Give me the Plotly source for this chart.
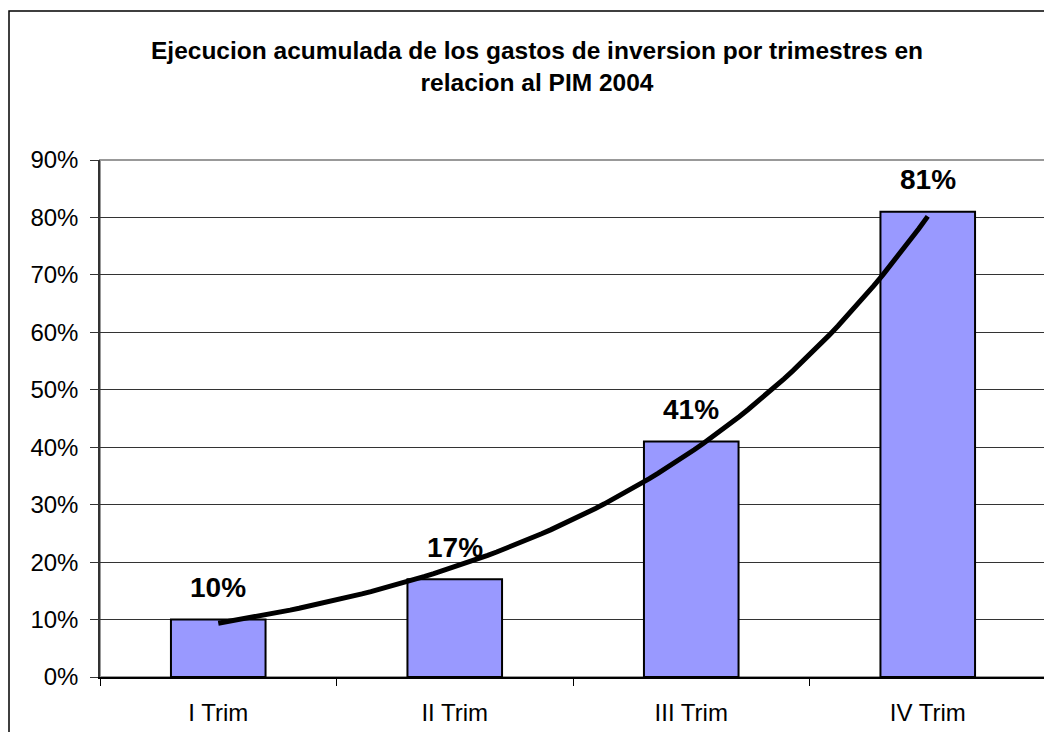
import numpy as np
import plotly.graph_objects as go

# ---- data ----
categories = ["I Trim", "II Trim", "III Trim", "IV Trim"]
values = [0.10, 0.17, 0.41, 0.81]
value_labels = ["10%", "17%", "41%", "81%"]
y_ticks = [0, 0.1, 0.2, 0.3, 0.4, 0.5, 0.6, 0.7, 0.8, 0.9]
title_text = "Ejecucion acumulada de los gastos de inversion por trimestres en<br>relacion al PIM 2004"

# Exponential trendline (as in the spreadsheet), fitted to the bar values
xi = np.arange(1, len(values) + 1)
slope, intercept = np.polyfit(xi, np.log(values), 1)
trend_x = np.linspace(1, len(values), 80)
trend_y = np.exp(intercept + slope * trend_x)

FONT = "Arial, 'Liberation Sans', sans-serif"

W, H = 1044, 724
L, R, T, B = 92, 6, 152, 55
PW, PH = W - L - R, H - T - B

fig = go.Figure()
fig.add_trace(go.Bar(
    x=categories, y=values,
    marker=dict(color="#9999FF", line=dict(color="black", width=2)),
    hoverinfo="x+y",
))
fig.add_trace(go.Scatter(
    x=trend_x, y=trend_y, mode="lines", xaxis="x2",
    line=dict(color="black", width=5, shape="linear"),
    hoverinfo="skip",
))

for c, v, t in zip(categories, values, value_labels):
    fig.add_annotation(x=c, y=v, text="<b>%s</b>" % t, showarrow=False,
                       yshift=32, font=dict(family=FONT, size=28, color="black"))

# outer chart border
fig.add_shape(type="rect", xref="paper", yref="paper",
              x0=(1 - L) / PW, x1=1.05, y0=-0.3, y1=(H - B - 3) / PH,
              line=dict(color="black", width=1.5), layer="below")
# plot area border (top/right gray)
fig.add_shape(type="rect", xref="paper", yref="paper", x0=0, x1=1, y0=0, y1=1,
              line=dict(color="#999999", width=2), layer="below")

fig.update_layout(
    width=W, height=H,
    margin=dict(l=L, r=R, t=T, b=B),
    paper_bgcolor="white", plot_bgcolor="white",
    showlegend=False,
    bargap=0.6,
    title=dict(text="<b>%s</b>" % title_text, x=529 / W, xanchor="center",
               y=1 - 51 / H, yanchor="middle", xref="container", yref="container",
               font=dict(family=FONT, size=24.5, color="black")),
    font=dict(family=FONT, color="black"),
    xaxis=dict(type="category", showgrid=False, showline=True, linecolor="black",
               linewidth=1.5, ticks="outside", tickson="boundaries", ticklen=7,
               tickcolor="black", tickfont=dict(size=24, family=FONT, color="black"),
               ticklabelstandoff=13),
    xaxis2=dict(overlaying="x", range=[0.5, 4.5], visible=False),
    yaxis=dict(range=[0, 0.9], tickvals=y_ticks, tickformat=".0%", showgrid=True,
               gridcolor="#333333", gridwidth=1, showline=True, linecolor="#333333",
               linewidth=1.5, ticks="outside", ticklen=8, tickcolor="#333333",
               tickfont=dict(size=24, family=FONT, color="black"),
               ticklabelstandoff=7, zeroline=False),
)

fig.write_html("out.html")
